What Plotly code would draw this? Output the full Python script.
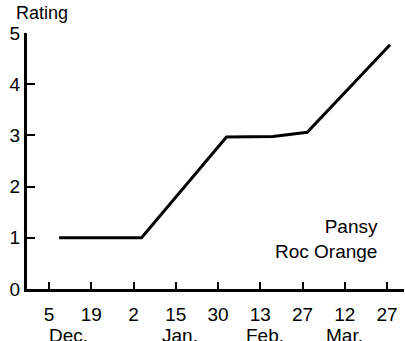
import plotly.graph_objects as go

# tick positions (evenly spaced, ~2 weeks apart)
tick_pos = [0, 1, 2, 3, 4, 5, 6, 7, 8]
tick_labels = ["5", "19", "2", "15", "30", "13", "27", "12", "27"]
month_labels = ["Dec.", "Jan.", "Feb.", "Mar."]
month_pos = [0.45, 3.1, 5.1, 7.0]

# Pansy 'Roc Orange' rating series (x in tick units)
series_x = [0.24, 2.19, 4.2, 5.3, 6.11, 8.07]
series_y = [1.0, 1.0, 2.97, 2.98, 3.06, 4.77]

y_ticks = [0, 1, 2, 3, 4, 5]

FONT = "Liberation Sans"

fig = go.Figure()
fig.add_trace(go.Scatter(x=series_x, y=series_y, mode="lines",
                         line=dict(color="black", width=3),
                         showlegend=False, hoverinfo="skip"))

fig.update_layout(
    width=405, height=341,
    margin=dict(l=27, r=1, t=33, b=52),
    paper_bgcolor="white", plot_bgcolor="white",
    font=dict(family=FONT, size=19, color="black"),
    xaxis=dict(range=[-0.52, 8.4], tickvals=tick_pos, ticktext=tick_labels,
               showline=True, linewidth=3, linecolor="black",
               ticks="inside", ticklen=7, tickwidth=2, tickcolor="black",
               ticklabelstandoff=6,
               showgrid=False, zeroline=False, fixedrange=True,
               automargin=False),
    yaxis=dict(range=[0, 5], tickvals=y_ticks,
               showline=True, linewidth=3, linecolor="black",
               ticks="inside", ticklen=8, tickwidth=2, tickcolor="black",
               showgrid=False, zeroline=False, fixedrange=True,
               automargin=False),
)

for m, p in zip(month_labels, month_pos):
    fig.add_annotation(x=p, xref="x", y=0, yref="paper", text=m,
                       showarrow=False, yanchor="top", yshift=-34,
                       font=dict(family=FONT, size=19, color="black"))

fig.add_annotation(x=0, xref="paper", y=1, yref="paper", text="Rating",
                   showarrow=False, xanchor="left", yanchor="bottom",
                   xshift=-13, yshift=8,
                   font=dict(family=FONT, size=18, color="black"))

fig.add_annotation(x=(380 - 27) / 377, xref="paper", y=(289 - 239) / 256, yref="paper",
                   text="Pansy<br>Roc Orange", align="right",
                   showarrow=False, xanchor="right", yanchor="middle",
                   font=dict(family=FONT, size=19, color="black"))

fig.write_html("out.html", config={"displayModeBar": False},
               post_script="document.body.style.margin='0';document.body.style.overflow='hidden';")
